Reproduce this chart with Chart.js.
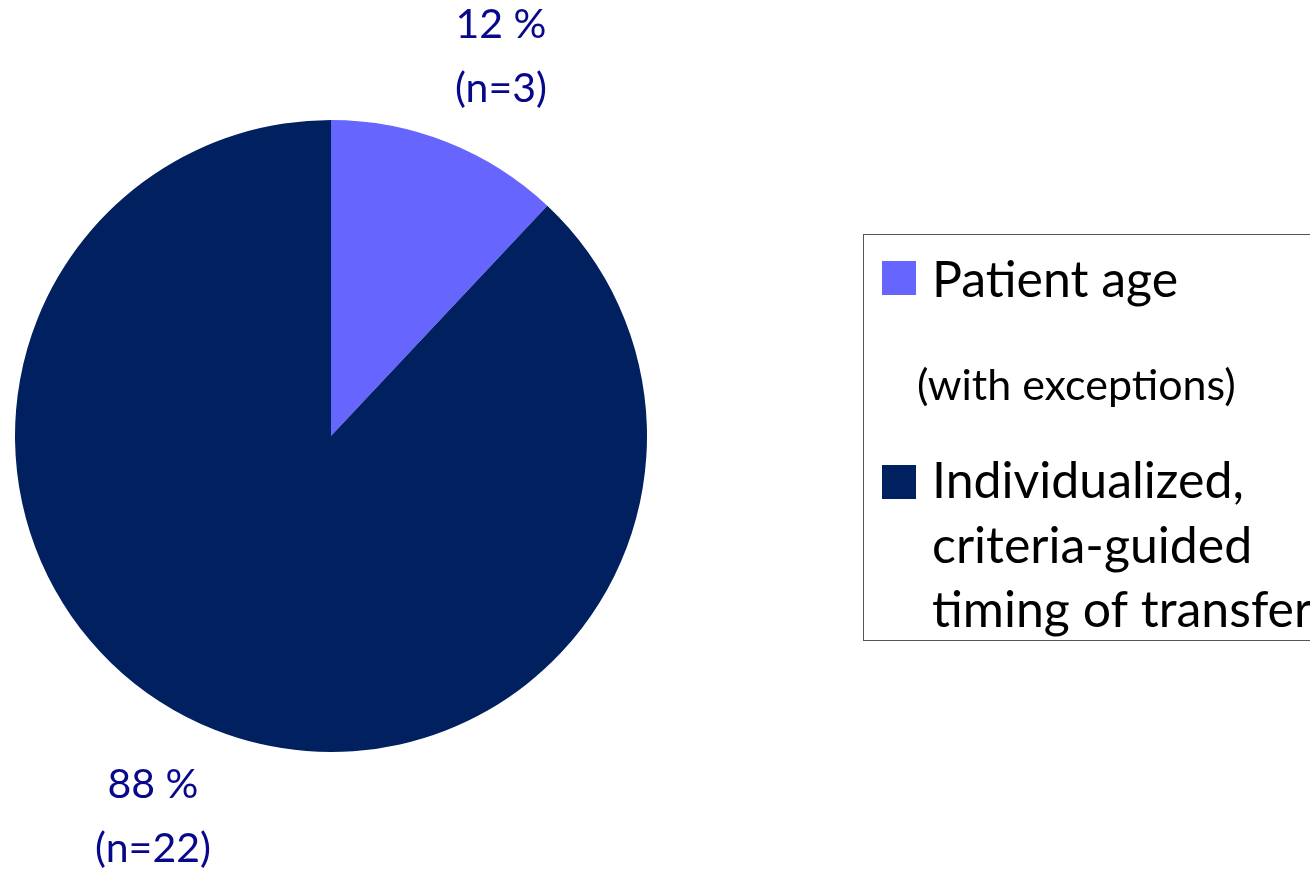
<!DOCTYPE html>
<html lang="en">
<head>
    <meta charset="UTF-8">
    <title>Timing of transfer</title>
    <script src="https://cdn.jsdelivr.net/npm/chart.js"></script>
    <style>
        body {
            margin: 0;
            padding: 0;
            background: #fff;
            overflow: hidden;
        }
        #chart-container {
            position: relative;
            width: 1310px;
            height: 869px;
        }
    </style>
</head>
<body>
    <div id="chart-container">
        <canvas id="pieChart"></canvas>
    </div>

    <script>
        // Data
        const categories = ['Patient age', 'Individualized, criteria-guided timing of transfer'];
        const counts = [3, 22];
        const percentLabels = ['12 %', '88 %'];
        const countLabels = ['(n=3)', '(n=22)'];
        const legendLines = [['Patient age'], ['Individualized,', 'criteria-guided', 'timing of transfer']];
        const legendNote = '(with exceptions)';
        const sliceColors = ['#6666FF', '#002060'];

        const fontFamily = 'Lato, "Open Sans", sans-serif';

        // Labels outside the slices, placed from each arc's geometry
        const outsideLabels = {
            id: 'outsideLabels',
            afterDatasetsDraw(chart) {
                const ctx = chart.ctx;
                const arcs = chart.getDatasetMeta(0).data;
                ctx.save();
                ctx.fillStyle = '#08088C';
                ctx.font = '41px ' + fontFamily;
                ctx.textAlign = 'center';
                ctx.textBaseline = 'middle';
                arcs.forEach((arc, i) => {
                    const p = arc.getProps(['x', 'y', 'startAngle', 'endAngle', 'outerRadius'], true);
                    const mid = (p.startAngle + p.endAngle) / 2 + 3 * Math.PI / 180;
                    const r = p.outerRadius + 102;
                    const cx = p.x + Math.cos(mid) * r - 4;
                    const cy = p.y + Math.sin(mid) * r;
                    ctx.fillText(percentLabels[i], cx, cy - 31);
                    ctx.fillText(countLabels[i], cx, cy + 33);
                });
                ctx.restore();
            }
        };

        // Boxed legend on the right
        const boxLegend = {
            id: 'boxLegend',
            afterDraw(chart) {
                const ctx = chart.ctx;
                ctx.save();
                ctx.strokeStyle = '#555';
                ctx.lineWidth = 1;
                ctx.strokeRect(863.5, 234.5, 600, 406);

                ctx.textAlign = 'left';
                ctx.textBaseline = 'alphabetic';

                // first item
                ctx.fillStyle = sliceColors[0];
                ctx.fillRect(882, 261, 34, 34);
                ctx.fillStyle = '#000';
                ctx.font = '50px ' + fontFamily;
                legendLines[0].forEach((t, j) => ctx.fillText(t, 932, 297 + j * 64));

                ctx.font = '43px ' + fontFamily;
                ctx.fillText(legendNote, 917, 400);

                // second item
                ctx.fillStyle = sliceColors[1];
                ctx.fillRect(882, 465, 34, 34);
                ctx.fillStyle = '#000';
                ctx.font = '50px ' + fontFamily;
                legendLines[1].forEach((t, j) => ctx.fillText(t, 932, 498 + j * 64.5));
                ctx.restore();
            }
        };

        const ctx = document.getElementById('pieChart').getContext('2d');
        new Chart(ctx, {
            type: 'pie',
            data: {
                labels: categories,
                datasets: [{
                    data: counts,
                    backgroundColor: sliceColors,
                    borderWidth: 0
                }]
            },
            options: {
                responsive: true,
                maintainAspectRatio: false,
                animation: false,
                layout: {
                    padding: { left: 15, top: 120, right: 663, bottom: 117 }
                },
                plugins: {
                    legend: { display: false },
                    tooltip: { enabled: false }
                }
            },
            plugins: [outsideLabels, boxLegend]
        });
    </script>
</body>
</html>
